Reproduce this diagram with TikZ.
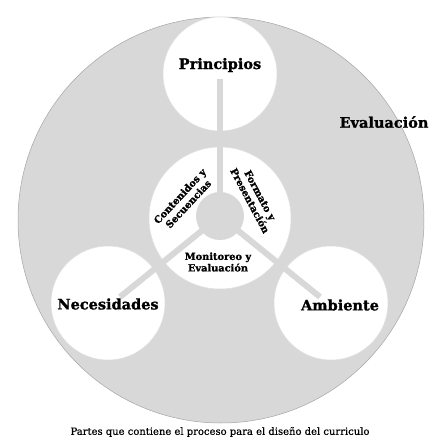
\documentclass[tikz,border=0pt]{standalone}
\usepackage{fontspec}
\setmainfont{DejaVu Serif}[BoldFeatures={FakeBold=1.2}]
\newfontfamily\capfont{DejaVu Serif}[FakeBold=0.6]
\definecolor{bggray}{HTML}{D8D8D8}
\begin{document}
\begin{tikzpicture}[x=1pt,y=1pt,
  disc/.style={circle,inner sep=0pt,fill=white,draw=gray!25,line width=0.5pt},
  lbl/.style={font=\bfseries\fontsize{14.5}{16}\selectfont,text=black,inner sep=0pt},
  inlbl/.style={font=\bfseries\fontsize{9.8}{11.5}\selectfont,align=center,text=black,inner sep=0pt},
  spoke/.style={line width=6pt,draw=bggray}]
\useasboundingbox[fill=white] (0,0) rectangle (440,-440);
\node[circle,fill=bggray,draw=gray!70,line width=0.5pt,minimum size=406pt,inner sep=0pt] (big) at (221,-220) {};
\node[disc,minimum size=114pt] (pri) at (220,-74) {};
\node[disc,minimum size=114pt] (nec) at (108,-303) {};
\node[disc,minimum size=114pt] (amb) at (331,-303) {};
\node[disc,minimum size=142pt] (ring) at (220,-218) {};
\node[circle,fill=bggray,minimum size=48pt,inner sep=0pt] (hub) at (220,-216) {};
\coordinate (pe) at (220,-79);
\coordinate (ne) at (120,-297);
\coordinate (ae) at (320,-297);
\draw[spoke] (hub.center) -- (pe);
\draw[spoke] (hub.center) -- (ne);
\draw[spoke] (hub.center) -- (ae);
\node[lbl] (tpri) at (220,-65) {Principios};
\node[lbl] (tnec) at (108,-304) {Necesidades};
\node[lbl] (tamb) at (340,-305) {Ambiente};
\node[lbl] (teva) at (384,-122) {Evaluación};
\node[inlbl] (tmon) at (218,-262) {Monitoreo y\\Evaluación};
\node[inlbl,rotate=47] (tcon) at (184,-200) {Contenidos y\\Secuencias};
\node[inlbl,rotate=-62] (tfor) at (255,-198) {Formato y\\Presentación};
\node[font=\capfont\fontsize{10}{12}\selectfont,inner sep=0pt] (cap) at (220,-432) {Partes que contiene el proceso para el diseño del curriculo};
\end{tikzpicture}
\end{document}
